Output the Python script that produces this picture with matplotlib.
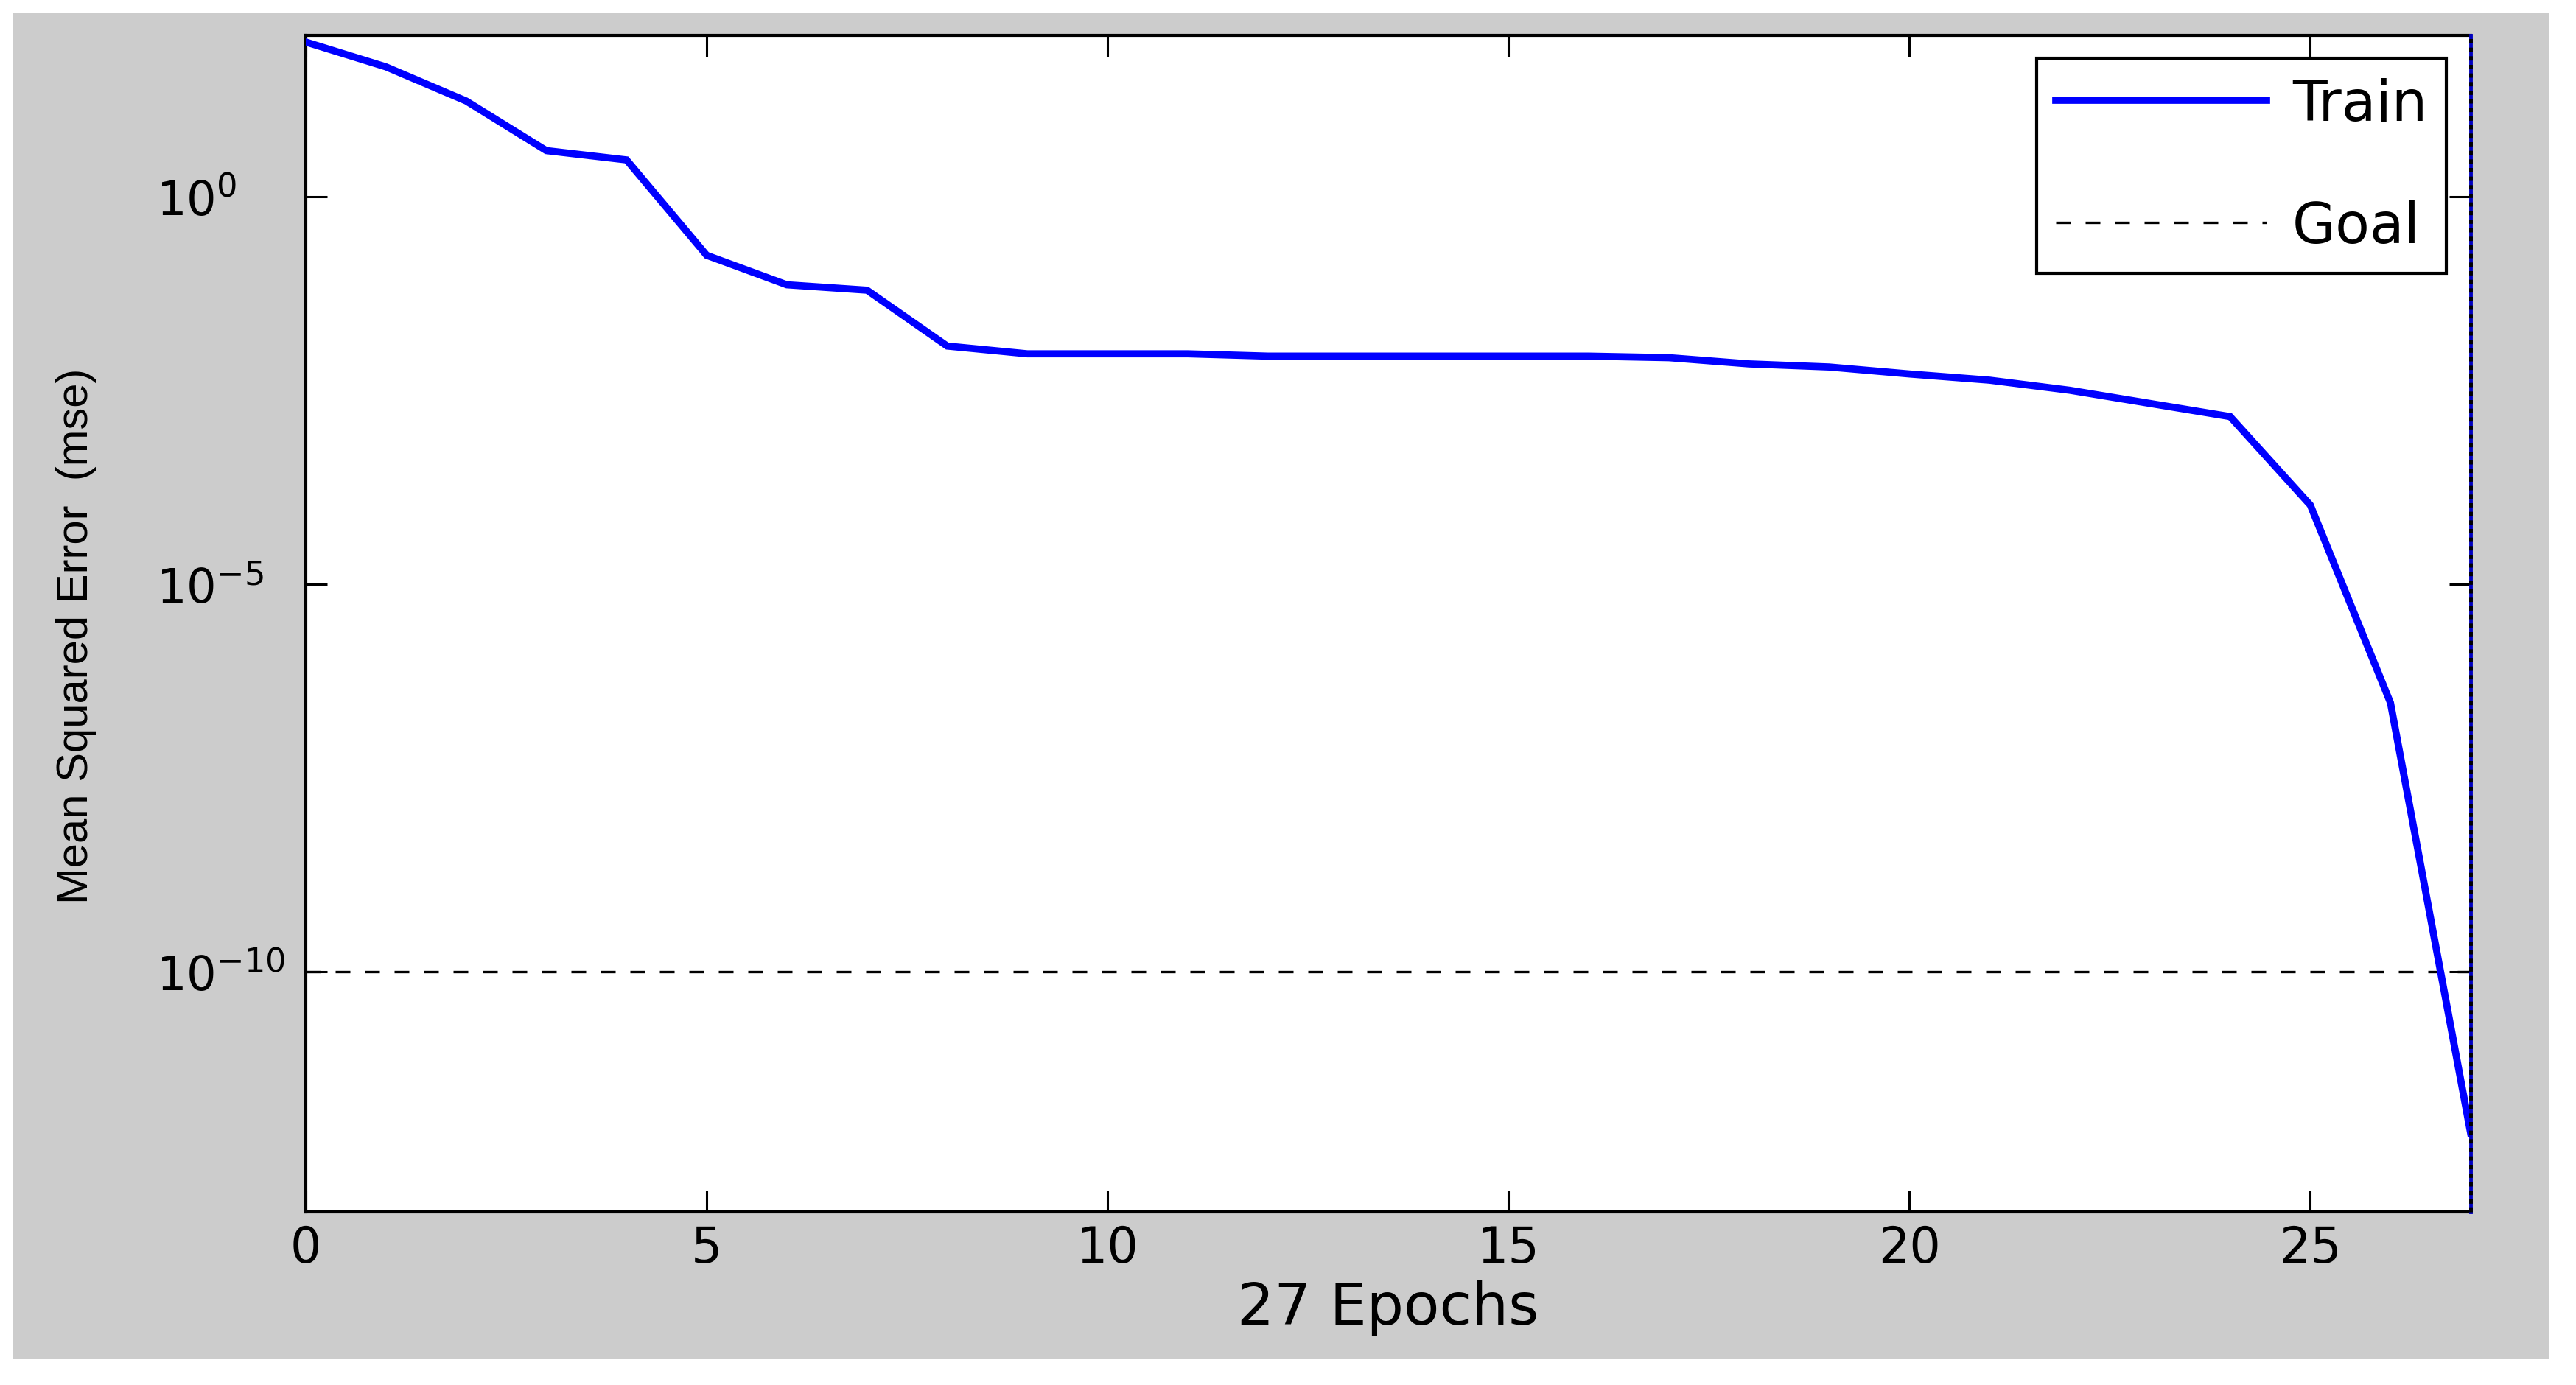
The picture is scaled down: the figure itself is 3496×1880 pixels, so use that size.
import matplotlib
matplotlib.use('Agg')
import matplotlib.pyplot as plt
from matplotlib.patches import Rectangle
import numpy as np

# Training record (MSE per epoch as log10 values)
epochs = [0, 1, 2, 3, 4, 5, 6, 7, 8, 9, 10, 11, 12, 13, 14, 15, 16, 17,
          18, 19, 20, 21, 22, 23, 24, 25, 26, 27]
train_log_mse = [1.99, 1.67, 1.23, 0.59, 0.47, -0.76, -1.14, -1.21, -1.93,
                 -2.03, -2.03, -2.03, -2.06, -2.06, -2.06, -2.06, -2.06,
                 -2.08, -2.16, -2.20, -2.29, -2.37, -2.50, -2.67, -2.84,
                 -3.98, -6.53, -12.08]
goal = 1e-10
x_ticks = [0, 5, 10, 15, 20, 25]
y_ticks = [1e-10, 1e-5, 1e0]
y_tick_labels = [r'$\mathregular{10^{-10}}$', r'$\mathregular{10^{-5}}$',
                 r'$\mathregular{10^{0}}$']

train_mse = 10 ** np.array(train_log_mse)

plt.rcParams['font.family'] = ['DejaVu Sans']
plt.rcParams['mathtext.fontset'] = 'dejavusans'

W, H = 3496, 1881
fig = plt.figure(figsize=(W / 100, H / 100), dpi=100, facecolor='white')

# grey MATLAB-style figure background
fig.patches.append(Rectangle((18 / W, 1 - 1846 / H), (3460 - 18) / W,
                             (1846 - 18) / H, transform=fig.transFigure,
                             facecolor='#cccccc', edgecolor='none', zorder=-5))

ax = fig.add_axes([415 / W, 1 - 1645.5 / H, (3353 - 415) / W, (1645.5 - 49) / H])
ax.set_zorder(2)
ax.set_facecolor('white')

ax.semilogy(epochs, train_mse, color='#0000ff', lw=7, label='Train',
            solid_joinstyle='miter', zorder=3)
ax.axhline(goal, color='black', lw=2.4, dashes=(6, 6), label='Goal', zorder=2)

# odd blue/black stripe along the right edge
ax.axvline(epochs[-1], color='#0000c0', lw=3.5, zorder=4, clip_on=False)
ax.axvline(epochs[-1], color='black', lw=3.5, dashes=(1.2, 1.2), zorder=5,
           clip_on=False)
ax.spines['right'].set_visible(False)

ax.set_xlim(0, 27)
ax.set_ylim(10 ** -13.09, 10 ** 2.076)

ax.set_xticks(x_ticks)
ax.set_xticklabels([str(t) for t in x_ticks], fontsize=48)
ax.set_yticks(y_ticks)
ax.set_yticklabels(y_tick_labels, fontsize=46)
ax.yaxis.set_minor_locator(matplotlib.ticker.NullLocator())
for lab in ax.get_yticklabels():
    lab.set_horizontalalignment('left')

ax.tick_params(which='both', direction='in', length=21, width=2.2,
               top=True, right=True, color='black')
ax.tick_params(axis='x', pad=12)
ax.tick_params(axis='y', pad=146)

for sp in ax.spines.values():
    sp.set_linewidth(3)
    sp.set_color('black')

ax.set_xlabel('27 Epochs', fontsize=57)
ax.xaxis.set_label_coords(0.5, -0.058)
ax.set_ylabel('Mean Squared Error  (mse)', fontsize=43,
              family=['Liberation Sans Narrow', 'Liberation Sans'])
ax.yaxis.set_label_coords(-0.0965, 0.49)

leg = ax.legend(loc='upper right', bbox_to_anchor=(0.9888, 0.9806),
                borderaxespad=0, fontsize=55, handlelength=3.75,
                handletextpad=0.45, labelspacing=1.2, borderpad=0.34,
                fancybox=False, framealpha=1, edgecolor='black')
leg.get_frame().set_linewidth(3)

fig.savefig('out.png', dpi=100, facecolor='white')
